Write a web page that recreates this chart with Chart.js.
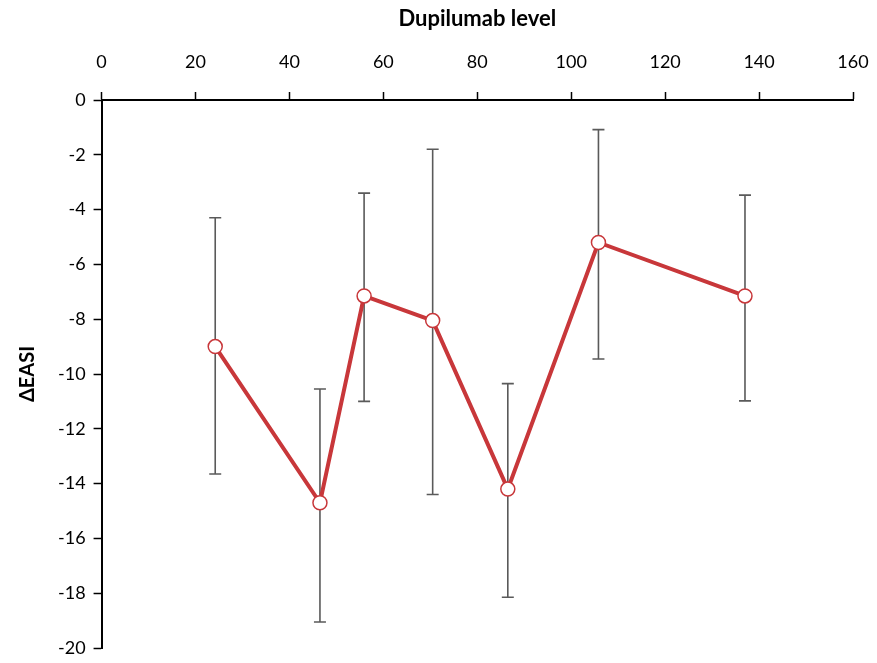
<!DOCTYPE html>
<html>
<head>
<meta charset="utf-8">
<script src="https://cdn.jsdelivr.net/npm/chart.js@4"></script>
<style>
html,body{margin:0;padding:0;background:#fff;}
#wrap{width:877px;height:663px;}
</style>
</head>
<body>
<div id="wrap"><canvas id="c" width="877" height="663"></canvas></div>
<script>
const dupilumabLevel = [24.2, 46.5, 55.9, 70.5, 86.5, 105.8, 137.0];
const deltaEASI      = [-9.0, -14.7, -7.15, -8.05, -14.2, -5.2, -7.15];
const errorUpper     = [-4.3, -10.55, -3.4, -1.8, -10.35, -1.08, -3.47];
const errorLower     = [-13.65, -19.05, -11.0, -14.4, -18.15, -9.45, -10.98];
const xTicks = [0, 20, 40, 60, 80, 100, 120, 140, 160];
const yTicks = [0, -2, -4, -6, -8, -10, -12, -14, -16, -18, -20];

const points = dupilumabLevel.map((x, i) => ({x: x, y: deltaEASI[i]}));

const errorBarPlugin = {
  id: 'errorBars',
  beforeDatasetsDraw(chart) {
    const ctx = chart.ctx;
    const xs = chart.scales.x, ys = chart.scales.y;
    ctx.save();
    ctx.strokeStyle = '#5a5a5a';
    ctx.lineWidth = 1.6;
    const cap = 6;
    dupilumabLevel.forEach((xv, i) => {
      const px = xs.getPixelForValue(xv);
      const yt = ys.getPixelForValue(errorUpper[i]);
      const yb = ys.getPixelForValue(errorLower[i]);
      ctx.beginPath();
      ctx.moveTo(px, yt); ctx.lineTo(px, yb);
      ctx.moveTo(px - cap, yt); ctx.lineTo(px + cap, yt);
      ctx.moveTo(px - cap, yb); ctx.lineTo(px + cap, yb);
      ctx.stroke();
    });
    ctx.restore();
  }
};

new Chart(document.getElementById('c'), {
  type: 'scatter',
  data: {
    datasets: [{
      data: points,
      showLine: true,
      borderColor: '#c8373a',
      borderWidth: 4,
      pointRadius: 7,
      pointBackgroundColor: '#ffffff',
      pointBorderColor: '#c8373a',
      pointBorderWidth: 1.5,
      tension: 0
    }]
  },
  options: {
    responsive: false,
    animation: false,
    layout: {padding: {left: 16, right: 0, top: 6, bottom: 0}},
    plugins: {legend: {display: false}, tooltip: {enabled: false}},
    scales: {
      x: {
        type: 'linear',
        position: 'top',
        min: 0, max: 160,
        afterBuildTicks: (s) => { s.ticks = xTicks.map(v => ({value: v})); },
        afterFit: (s) => { s.paddingRight = 24; s.paddingLeft = 0; },
        grid: {display: true, drawOnChartArea: false, drawTicks: true, tickLength: 8, color: '#000', tickWidth: 1.5},
        border: {display: true, color: '#000', width: 2},
        ticks: {color: '#000', font: {family: 'Lato', size: 18}, padding: 19, maxRotation: 0},
        title: {display: true, text: 'Dupilumab level', color: '#000', font: {family: 'Lato', size: 22, weight: 'bold'}, padding: {top: 0, bottom: 0}}
      },
      y: {
        type: 'linear',
        min: -20, max: 0,
        afterBuildTicks: (s) => { s.ticks = yTicks.map(v => ({value: v})); },
        afterFit: (s) => { s.paddingBottom = 15; s.paddingTop = 0; },
        grid: {display: true, drawOnChartArea: false, drawTicks: true, tickLength: 8, color: '#000', tickWidth: 1.5},
        border: {display: true, color: '#000', width: 2},
        ticks: {color: '#000', font: {family: 'Lato', size: 18}, padding: 8},
        title: {display: true, text: 'ΔEASI', color: '#000', font: {family: 'Lato', size: 20, weight: 'bold'}, padding: {top: 0, bottom: 10}}
      }
    }
  },
  plugins: [errorBarPlugin]
});
</script>
</body>
</html>
